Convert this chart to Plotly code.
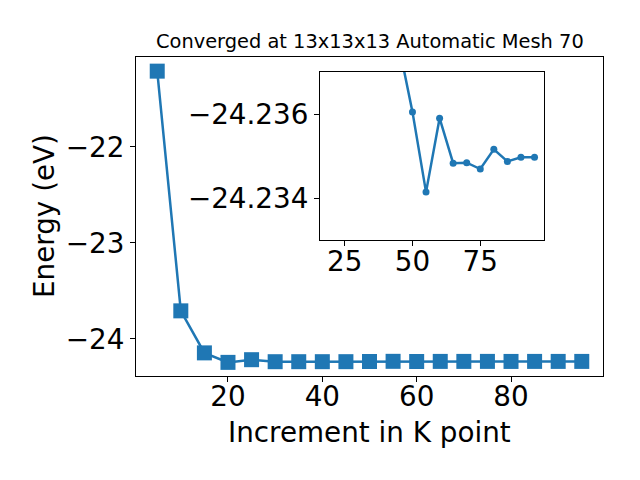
import plotly.graph_objects as go

# Data
kpoints = [5, 10, 15, 20, 25, 30, 35, 40, 45, 50, 55, 60, 65, 70, 75, 80, 85, 90, 95]
energy = [-21.21, -23.708, -24.146, -24.245, -24.217, -24.2380, -24.2379, -24.2378, -24.23763,
          -24.23605, -24.23414, -24.23590, -24.23483, -24.23484, -24.23469, -24.23516,
          -24.23487, -24.23497, -24.23497]
inset_start = 8  # inset shows from K=45 onward

title_text = "Converged at 13x13x13 Automatic Mesh 70"
main_xticks = [20, 40, 60, 80]
main_yticks = [-22, -23, -24]
main_yticklabels = ["\u221222", "\u221223", "\u221224"]
inset_xticks = [25, 50, 75]
inset_yticks = [-24.236, -24.234]
inset_yticklabels = ["\u221224.236", "\u221224.234"]

color = "#1f77b4"
FONT = "DejaVu Sans"
BIG = 27.8

fig = go.Figure()
fig.add_trace(go.Scatter(
    x=kpoints, y=energy, mode="lines+markers",
    line=dict(color=color, width=2.5),
    marker=dict(symbol="square", size=15, color=color),
    xaxis="x", yaxis="y", showlegend=False))
fig.add_trace(go.Scatter(
    x=kpoints[inset_start:], y=energy[inset_start:], mode="lines+markers",
    line=dict(color=color, width=2.5),
    marker=dict(symbol="circle", size=7, color=color),
    xaxis="x2", yaxis="y2", showlegend=False, cliponaxis=True))

axis_common = dict(showline=True, linecolor="black", linewidth=1, mirror=True,
                   ticks="outside", ticklen=5, tickwidth=1, tickcolor="black",
                   showgrid=False, zeroline=False,
                   tickfont=dict(family=FONT, size=BIG, color="black"))

fig.update_layout(
    width=640, height=480,
    margin=dict(l=0, r=0, t=0, b=0),
    paper_bgcolor="white", plot_bgcolor="white",
    font=dict(family=FONT, color="black"),
    xaxis=dict(domain=[136/640, 603/640], range=[0.5, 99.5], ticklabelstandoff=-9,
               tickvals=main_xticks, anchor="y", **axis_common),
    yaxis=dict(domain=[1-376/480, 1-57/480], range=[-24.387, -21.0625],
               tickvals=main_yticks, ticktext=main_yticklabels, anchor="x", **axis_common),
    xaxis2=dict(domain=[320/640, 544/640], range=[15.9, 98.5], ticklabelstandoff=-8,
                tickvals=inset_xticks, anchor="y2", **axis_common),
    yaxis2=dict(domain=[1-240/480, 1-72/480], range=[-24.233, -24.237],
                tickvals=inset_yticks, ticktext=inset_yticklabels, anchor="x2", **axis_common),
    annotations=[
        dict(text=title_text, x=369.5/640, y=1-41/480, xref="paper", yref="paper",
             xanchor="center", yanchor="middle", showarrow=False,
             font=dict(family=FONT, size=19.4, color="black")),
        dict(text="Increment in K point", x=369.5/640, y=1-432/480, xref="paper", yref="paper",
             xanchor="center", yanchor="middle", showarrow=False,
             font=dict(family=FONT, size=BIG, color="black")),
        dict(text="Energy (eV)", x=45/640, y=1-216/480, xref="paper", yref="paper",
             xanchor="center", yanchor="middle", showarrow=False, textangle=-90,
             font=dict(family=FONT, size=BIG, color="black")),
    ],
)

fig.write_html("out.html", config={"displayModeBar": False},
               post_script="document.body.style.margin='0';")
